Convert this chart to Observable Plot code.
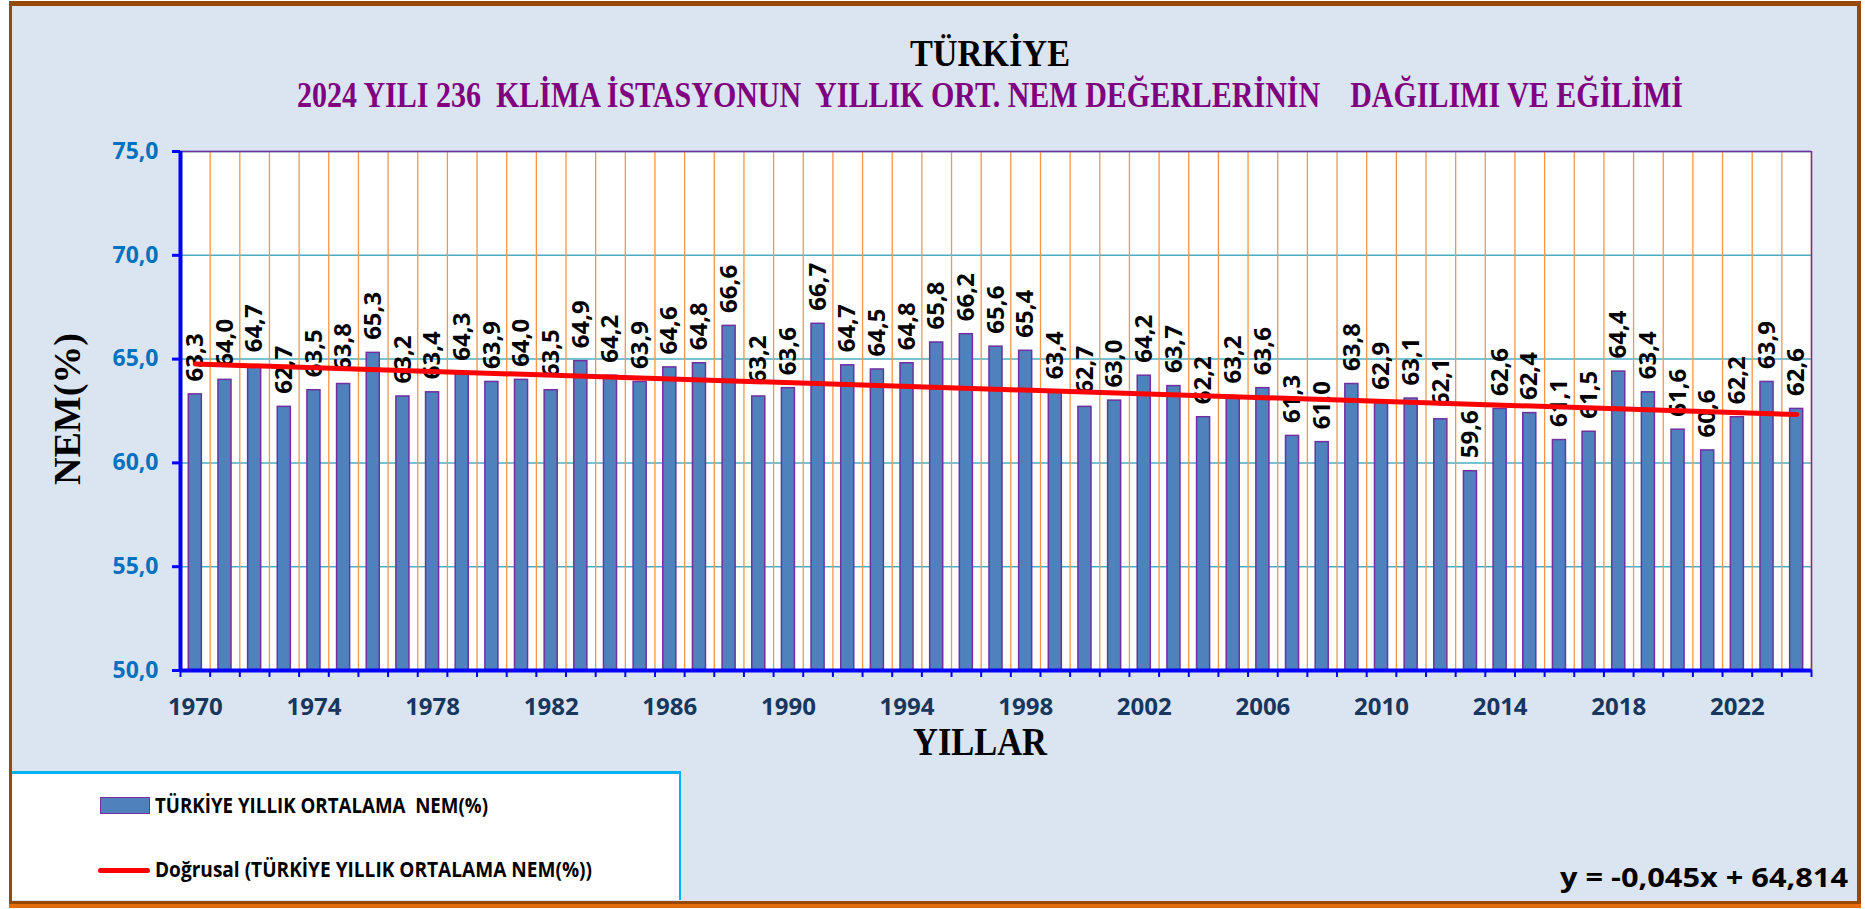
<!DOCTYPE html>
<html><head><meta charset="utf-8">
<script src="https://cdn.jsdelivr.net/npm/d3@7"></script>
<script src="https://cdn.jsdelivr.net/npm/@observablehq/plot@0.6"></script>
<style>
html,body{margin:0;padding:0;background:#fff;}
#page{position:relative;width:1865px;height:909px;overflow:hidden;}
#frame{position:absolute;left:9px;top:1px;width:1852px;height:903px;box-sizing:border-box;background:#dbe5f1;
  border-left:3px solid #984807;border-top:5px solid #984807;border-right:4px solid #984807;border-bottom:3px solid #984807;
  box-shadow:0 4px 0 #e46c0a;}
#chart{position:absolute;left:0;top:0;}
#legend{position:absolute;left:12px;top:771px;width:669px;height:129px;box-sizing:border-box;background:#fff;
  border-top:3px solid #00b0f0;border-right:2px solid #00b0f0;}
.sw{position:absolute;box-sizing:border-box;}
</style>
</head><body>
<div id="page">
  <div id="frame"></div>
  <div id="chart"></div>
  <div id="legend"></div>
</div>
<script>
// ---- data ----
const years = [1970,1971,1972,1973,1974,1975,1976,1977,1978,1979,
               1980,1981,1982,1983,1984,1985,1986,1987,1988,1989,
               1990,1991,1992,1993,1994,1995,1996,1997,1998,1999,
               2000,2001,2002,2003,2004,2005,2006,2007,2008,2009,
               2010,2011,2012,2013,2014,2015,2016,2017,2018,2019,
               2020,2021,2022,2023,2024];
const humidity = [63.3,64.0,64.7,62.7,63.5,63.8,65.3,63.2,63.4,64.3,
                  63.9,64.0,63.5,64.9,64.2,63.9,64.6,64.8,66.6,63.2,
                  63.6,66.7,64.7,64.5,64.8,65.8,66.2,65.6,65.4,63.4,
                  62.7,63.0,64.2,63.7,62.2,63.2,63.6,61.3,61.0,63.8,
                  62.9,63.1,62.1,59.6,62.6,62.4,61.1,61.5,64.4,63.4,
                  61.6,60.6,62.2,63.9,62.6];
const xTickYears = [1970,1974,1978,1982,1986,1990,1994,1998,2002,2006,2010,2014,2018,2022];
const yTicks = [50,55,60,65,70,75];
const titleText = "TÜRKİYE";
const subtitleText = "2024 YILI 236  KLİMA İSTASYONUN  YILLIK ORT. NEM DEĞERLERİNİN    DAĞILIMI VE EĞİLİMİ";
const xLabel = "YILLAR";
const yLabel = "NEM(%)";
const seriesName = "TÜRKİYE YILLIK ORTALAMA  NEM(%)";
const trendName = "Doğrusal (TÜRKİYE YILLIK ORTALAMA NEM(%))";
const equationText = "y = -0,045x + 64,814";

// ---- build ----
const data = years.map((year, i) => ({year, value: humidity[i]}));
const bounds = [years[0] - 0.5, ...years.map(y => y + 0.5)];
const fmt1 = v => v.toFixed(1).replace(".", ",");
const SANS = "'Open Sans', sans-serif";
const SERIF = "'Liberation Serif', 'Times New Roman', serif";

const chart = Plot.plot({
  width: 1865, height: 909,
  marginLeft: 180, marginRight: 54, marginTop: 151, marginBottom: 239,
  style: {background: "transparent", fontFamily: SANS, overflow: "visible"},
  x: {domain: [bounds[0], bounds[bounds.length - 1]]},
  y: {domain: [yTicks[0], yTicks[yTicks.length - 1]]},
  marks: [
    Plot.frame({fill: "white", stroke: null}),
    Plot.gridY(yTicks, {stroke: "#4bacc6", strokeOpacity: 1, strokeWidth: 1.5}),
    Plot.gridX(bounds, {stroke: "#f79646", strokeOpacity: 1, strokeWidth: 1.3}),
    Plot.rectY(data, {x1: d => d.year - 0.5, x2: d => d.year + 0.5, y1: () => yTicks[0], y2: "value",
      insetLeft: 8.3, insetRight: 8.3, fill: "#4f81bd", stroke: "#7030a0", strokeWidth: 1.5}),
    Plot.text(data, {x: "year", y: "value", text: d => fmt1(d.value), rotate: -90, textAnchor: "start",
      dy: -13, fontSize: 24, fontWeight: "bold", fill: "black"}),
    Plot.linearRegressionY(data, {x: "year", y: "value", stroke: "#ff0000", strokeWidth: 5, ci: 0}),
    Plot.ruleY([yTicks[yTicks.length - 1]], {stroke: "#7030a0", strokeWidth: 1.5}),
    Plot.ruleX([bounds[bounds.length - 1]], {stroke: "#7030a0", strokeWidth: 1.5}),
    Plot.axisY({ticks: yTicks, tickFormat: fmt1, tickSize: 8, tickPadding: 14, stroke: "#0000ff", strokeWidth: 3,
      fill: "#0070c0", fontSize: 23, fontWeight: "bold", label: null}),
    Plot.axisX({ticks: bounds, tickFormat: () => "", tickSize: 7, stroke: "#0000ff", strokeWidth: 2, label: null}),
    Plot.axisX({ticks: xTickYears, tickFormat: d => String(d), tickSize: 0, tickPadding: 27,
      fill: "#17375e", fontSize: 24, fontWeight: "bold", label: null}),
    Plot.ruleX([bounds[0]], {stroke: "#0000ff", strokeWidth: 4}),
    Plot.ruleY([yTicks[0]], {stroke: "#0000ff", strokeWidth: 4})
  ]
});
document.getElementById("chart").appendChild(chart);

// ---- text overlays ----
const page = document.getElementById("page");
function addText(str, o) {
  const el = document.createElement("div");
  el.style.cssText = `position:absolute;left:0;top:0;white-space:pre;line-height:0.8;font-family:${o.family};` +
    `font-weight:bold;font-size:${o.size}px;color:${o.color};transform-origin:0 0;`;
  el.textContent = str;
  const probe = document.createElement("span");
  probe.style.cssText = "display:inline-block;width:0;height:0;vertical-align:baseline;";
  el.appendChild(probe);
  page.appendChild(el);
  const w = el.getBoundingClientRect().width;
  const b = probe.offsetTop;
  const sx = o.width ? o.width / w : 1;
  if (o.rotate) {
    el.style.transform = `translate(${o.x}px,${o.y}px) rotate(-90deg) scaleX(${sx}) translate(${-w / 2}px,${-b}px)`;
  } else {
    const ax = o.anchor === "middle" ? 0.5 : o.anchor === "end" ? 1 : 0;
    el.style.transform = `translate(${o.x - ax * w * sx}px,${o.y - b}px) scaleX(${sx})`;
  }
  return el;
}
addText(titleText, {family: SERIF, size: 38, color: "#000", anchor: "middle", x: 990, y: 66, width: 160});
addText(subtitleText, {family: SERIF, size: 35, color: "#800080", anchor: "middle", x: 990, y: 106.5, width: 1386});
addText(xLabel, {family: SERIF, size: 41, color: "#000", anchor: "middle", x: 980, y: 755, width: 134});
addText(yLabel, {family: SERIF, size: 37, color: "#000", rotate: true, x: 80, y: 409, width: 152});

// legend
const sw1 = document.createElement("div");
sw1.className = "sw";
sw1.style.cssText += "left:100px;top:797px;width:50px;height:17px;background:#4f81bd;border:1.5px solid #7030a0;";
page.appendChild(sw1);
const sw2 = document.createElement("div");
sw2.className = "sw";
sw2.style.cssText += "left:98px;top:867.5px;width:52px;height:5px;background:#ff0000;border-radius:2.5px;";
page.appendChild(sw2);
addText(seriesName, {family: SANS, size: 20.5, color: "#000", anchor: "start", x: 155, y: 812.7, width: 333});
addText(trendName, {family: SANS, size: 20.5, color: "#000", anchor: "start", x: 155, y: 876.5, width: 437});
addText(equationText, {family: SANS, size: 26.5, color: "#000", anchor: "end", x: 1848, y: 887, width: 288});
</script>
</body></html>
